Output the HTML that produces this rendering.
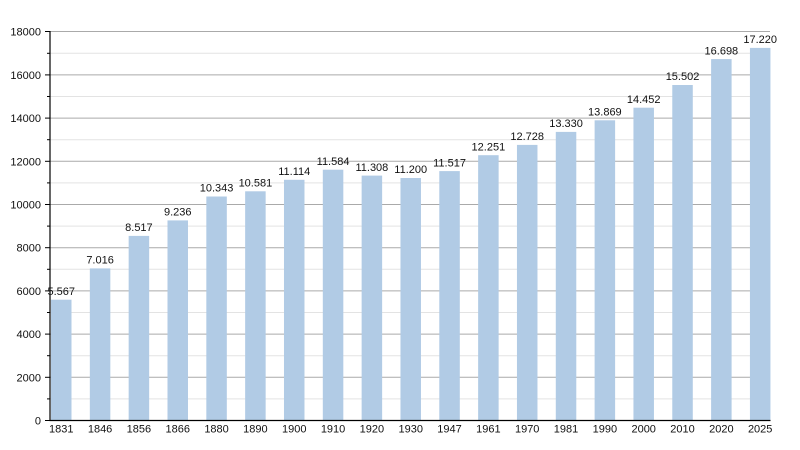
<!DOCTYPE html>
<html><head><meta charset="utf-8"><style>
html,body{margin:0;padding:0;background:#fff;}
svg{display:block;}
text{font-family:"Liberation Sans",sans-serif;font-size:11px;fill:#111;}
</style></head><body>
<svg width="800" height="450" viewBox="0 0 800 450" xmlns="http://www.w3.org/2000/svg">
<rect width="800" height="450" fill="#fff"/>
<g stroke="#e3e3e3" stroke-width="1">
<line x1="50" y1="398.9" x2="770" y2="398.9"/>
<line x1="50" y1="355.7" x2="770" y2="355.7"/>
<line x1="50" y1="312.5" x2="770" y2="312.5"/>
<line x1="50" y1="269.3" x2="770" y2="269.3"/>
<line x1="50" y1="226.1" x2="770" y2="226.1"/>
<line x1="50" y1="182.9" x2="770" y2="182.9"/>
<line x1="50" y1="139.7" x2="770" y2="139.7"/>
<line x1="50" y1="96.5" x2="770" y2="96.5"/>
<line x1="50" y1="53.3" x2="770" y2="53.3"/>
</g>
<g stroke="#aaaaaa" stroke-width="1">
<line x1="50" y1="377.3" x2="770" y2="377.3"/>
<line x1="50" y1="334.1" x2="770" y2="334.1"/>
<line x1="50" y1="290.9" x2="770" y2="290.9"/>
<line x1="50" y1="247.7" x2="770" y2="247.7"/>
<line x1="50" y1="204.5" x2="770" y2="204.5"/>
<line x1="50" y1="161.3" x2="770" y2="161.3"/>
<line x1="50" y1="118.1" x2="770" y2="118.1"/>
<line x1="50" y1="74.9" x2="770" y2="74.9"/>
<line x1="50" y1="31.5" x2="770" y2="31.5"/>
</g>
<g fill="#b1cbe5">
<rect x="51" y="299.7" width="20.5" height="120.3"/>
<rect x="89.83" y="268.4" width="20.5" height="151.6"/>
<rect x="128.66" y="235.9" width="20.5" height="184.1"/>
<rect x="167.49" y="220.4" width="20.5" height="199.6"/>
<rect x="206.32" y="196.5" width="20.5" height="223.5"/>
<rect x="245.15" y="191.3" width="20.5" height="228.7"/>
<rect x="283.98" y="179.8" width="20.5" height="240.2"/>
<rect x="322.81" y="169.7" width="20.5" height="250.3"/>
<rect x="361.64" y="175.6" width="20.5" height="244.4"/>
<rect x="400.47" y="178.0" width="20.5" height="242.0"/>
<rect x="439.3" y="171.1" width="20.5" height="248.9"/>
<rect x="478.13" y="155.2" width="20.5" height="264.8"/>
<rect x="516.96" y="144.9" width="20.5" height="275.1"/>
<rect x="555.79" y="131.9" width="20.5" height="288.1"/>
<rect x="594.62" y="120.3" width="20.5" height="299.7"/>
<rect x="633.45" y="107.7" width="20.5" height="312.3"/>
<rect x="672.28" y="85.0" width="20.5" height="335.0"/>
<rect x="711.11" y="59.1" width="20.5" height="360.9"/>
<rect x="749.94" y="47.9" width="20.5" height="372.1"/>
</g>
<g stroke="#000" stroke-width="1.2">
<line x1="50" y1="31" x2="50" y2="420.5"/>
<line x1="49.5" y1="420.5" x2="770.5" y2="420.5"/>
</g>
<g stroke="#000" stroke-width="1">
<line x1="45" y1="420.5" x2="50" y2="420.5"/>
<line x1="45" y1="377.3" x2="50" y2="377.3"/>
<line x1="45" y1="334.1" x2="50" y2="334.1"/>
<line x1="45" y1="290.9" x2="50" y2="290.9"/>
<line x1="45" y1="247.7" x2="50" y2="247.7"/>
<line x1="45" y1="204.5" x2="50" y2="204.5"/>
<line x1="45" y1="161.3" x2="50" y2="161.3"/>
<line x1="45" y1="118.1" x2="50" y2="118.1"/>
<line x1="45" y1="74.9" x2="50" y2="74.9"/>
<line x1="45" y1="31.5" x2="50" y2="31.5"/>
<line x1="47" y1="398.9" x2="50" y2="398.9"/>
<line x1="47" y1="355.7" x2="50" y2="355.7"/>
<line x1="47" y1="312.5" x2="50" y2="312.5"/>
<line x1="47" y1="269.3" x2="50" y2="269.3"/>
<line x1="47" y1="226.1" x2="50" y2="226.1"/>
<line x1="47" y1="182.9" x2="50" y2="182.9"/>
<line x1="47" y1="139.7" x2="50" y2="139.7"/>
<line x1="47" y1="96.5" x2="50" y2="96.5"/>
<line x1="47" y1="53.3" x2="50" y2="53.3"/>
</g>
<g text-anchor="end">
<text x="41" y="424.5">0</text>
<text x="41" y="381.3">2000</text>
<text x="41" y="338.1">4000</text>
<text x="41" y="294.9">6000</text>
<text x="41" y="251.7">8000</text>
<text x="41" y="208.5">10000</text>
<text x="41" y="165.3">12000</text>
<text x="41" y="122.1">14000</text>
<text x="41" y="78.9">16000</text>
<text x="41" y="35.5">18000</text>
</g>
<g text-anchor="middle">
<text x="61.25" y="295">5.567</text>
<text x="100.08" y="263.6">7.016</text>
<text x="138.91" y="231.1">8.517</text>
<text x="177.74" y="215.6">9.236</text>
<text x="216.57" y="191.7">10.343</text>
<text x="255.4" y="186.5">10.581</text>
<text x="294.23" y="175">11.114</text>
<text x="333.06" y="164.9">11.584</text>
<text x="371.89" y="170.8">11.308</text>
<text x="410.72" y="173.2">11.200</text>
<text x="449.55" y="166.3">11.517</text>
<text x="488.38" y="150.4">12.251</text>
<text x="527.21" y="140.1">12.728</text>
<text x="566.04" y="127.1">13.330</text>
<text x="604.87" y="115.5">13.869</text>
<text x="643.7" y="102.9">14.452</text>
<text x="682.53" y="80.2">15.502</text>
<text x="721.36" y="54.3">16.698</text>
<text x="760.19" y="43.1">17.220</text>
</g>
<g text-anchor="middle">
<text x="61.25" y="432.5">1831</text>
<text x="100.08" y="432.5">1846</text>
<text x="138.91" y="432.5">1856</text>
<text x="177.74" y="432.5">1866</text>
<text x="216.57" y="432.5">1880</text>
<text x="255.4" y="432.5">1890</text>
<text x="294.23" y="432.5">1900</text>
<text x="333.06" y="432.5">1910</text>
<text x="371.89" y="432.5">1920</text>
<text x="410.72" y="432.5">1930</text>
<text x="449.55" y="432.5">1947</text>
<text x="488.38" y="432.5">1961</text>
<text x="527.21" y="432.5">1970</text>
<text x="566.04" y="432.5">1981</text>
<text x="604.87" y="432.5">1990</text>
<text x="643.7" y="432.5">2000</text>
<text x="682.53" y="432.5">2010</text>
<text x="721.36" y="432.5">2020</text>
<text x="760.19" y="432.5">2025</text>
</g>
</svg>
</body></html>
